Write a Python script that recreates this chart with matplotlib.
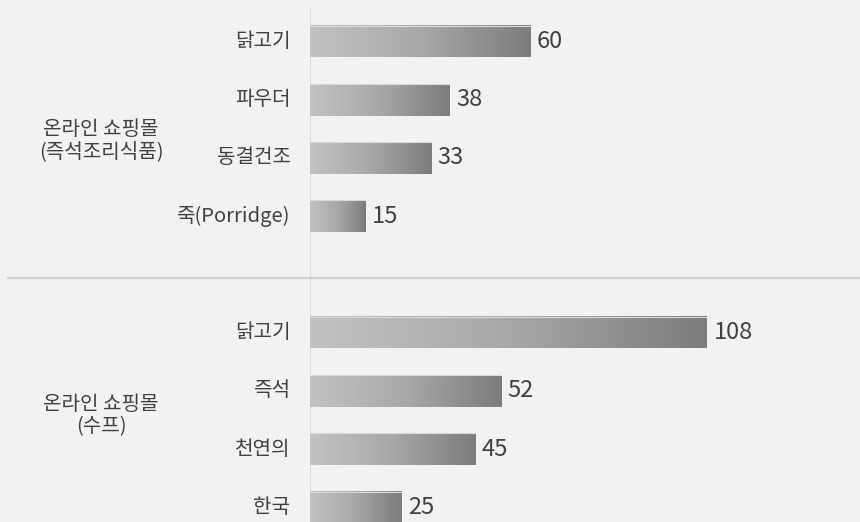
import numpy as np
import matplotlib.pyplot as plt
from matplotlib.colors import LinearSegmentedColormap
from matplotlib.lines import Line2D

plt.rcParams['font.family'] = ['Noto Sans CJK KR', 'DejaVu Sans']
plt.rcParams['font.weight'] = 'medium'

# data
groups = ['온라인 쇼핑몰\n(즉석조리식품)', '온라인 쇼핑몰\n(수프)']
group1_labels = ['닭고기', '파우더', '동결건조', '죽(Porridge)']
group1_values = [60, 38, 33, 15]
group2_labels = ['닭고기', '즉석', '천연의', '한국']
group2_values = [108, 52, 45, 25]

bg = '#f2f2f2'
text_color = '#404040'
grad = LinearSegmentedColormap.from_list('g', ['#c2c2c2', '#a8a8a8', '#7c7c7c'])

W, H = 860, 522
fig = plt.figure(figsize=(W / 100, H / 100), dpi=100, facecolor=bg)
ax_left = 309.5 / W
ax = fig.add_axes([ax_left, 0, 1 - ax_left, 1])
ax.set_facecolor(bg)

# one empty slot between the two groups
labels = group1_labels + [''] + group2_labels
values = group1_values + [None] + group2_values
ypos = np.arange(len(labels))

px_per_unit = (707 - 310) / 108.0
xmax = (W - 309.5) / px_per_unit
slot = 58.24
y_top = -41.5 / slot
y_bot = y_top + H / slot

bar_h = 31.6 / slot
g = np.linspace(0, 1, 256).reshape(1, -1)
for y, v, lab in zip(ypos, values, labels):
    if v is None:
        continue
    ax.imshow(g, cmap=grad, aspect='auto', interpolation='bilinear',
              extent=[0, v, y + bar_h / 2, y - bar_h / 2], zorder=2)
    ax.plot([0, v], [y - bar_h / 2, y - bar_h / 2], color='#d9d9d9', lw=0.8, zorder=3)
    ax.text(v + 7 / px_per_unit, y, str(v), va='center', ha='left',
            fontsize=17, color=text_color)
    ax.text(-19 / px_per_unit, y, lab, va='center', ha='right',
            fontsize=14.5, color=text_color, clip_on=False)

ax.set_xlim(0, xmax)
ax.set_ylim(y_bot, y_top)

# group labels
group_y = [141, 415.5]
for name, gy in zip(groups, group_y):
    fig.text(101 / W, 1 - gy / H, name, ha='center', va='center',
             fontsize=14.5, color=text_color, linespacing=1.1)

# axis line and separator
ax.axvline(0, ymin=0, ymax=1 - 10 / H, color='#d9d9d9', lw=1.2, zorder=1)
sep_y = 1 - 277.7 / H
fig.add_artist(Line2D([8 / W, 1], [sep_y, sep_y], color='#d0d0d0', lw=1.5))

for s in ax.spines.values():
    s.set_visible(False)
ax.set_xticks([])
ax.set_yticks([])

fig.savefig('out.png', dpi=100, facecolor=bg)
